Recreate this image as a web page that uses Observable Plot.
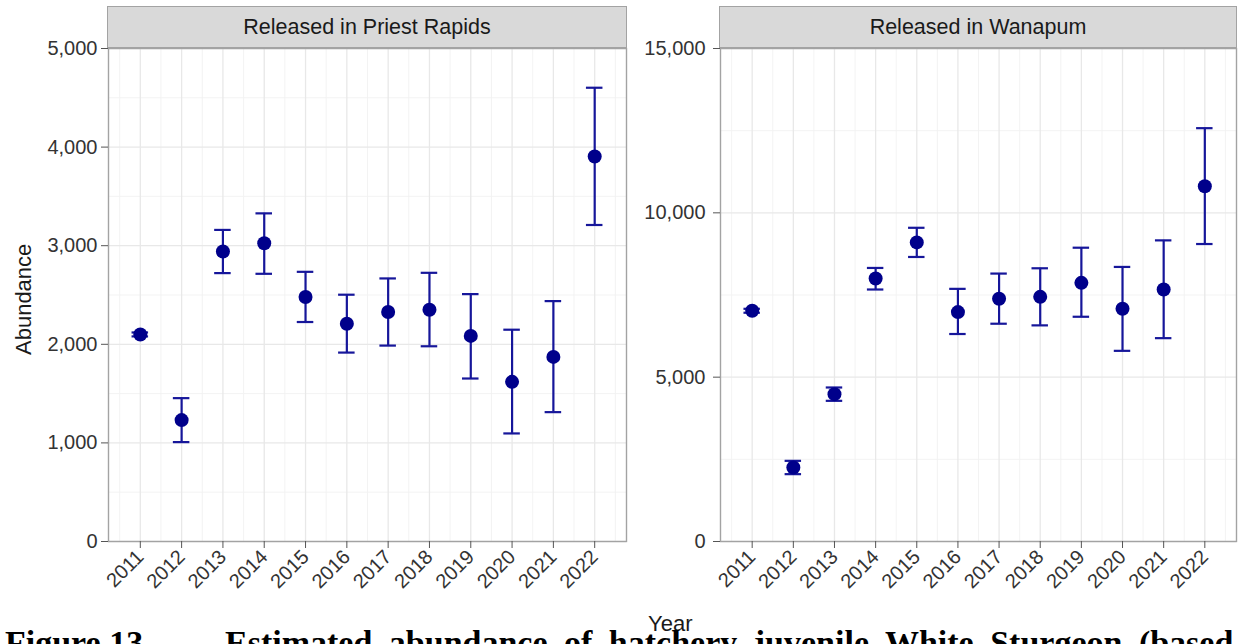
<!DOCTYPE html>
<html>
<head>
<meta charset="utf-8">
<script src="https://cdn.jsdelivr.net/npm/d3@7"></script>
<script src="https://cdn.jsdelivr.net/npm/@observablehq/plot@0.6"></script>
<style>
  html, body { margin: 0; padding: 0; background: #fff; }
  #root { position: relative; width: 1243px; height: 644px; overflow: hidden; font-family: "Liberation Sans", Arial, sans-serif; }
  .panel { position: absolute; top: 0; }
  .strip { position: absolute; top: 6px; height: 40px; background: #d9d9d9; border: 1px solid #a3a3a3; box-sizing: content-box;
           font-size: 21.5px; color: #1a1a1a; text-align: center; line-height: 40px; }
  .ylab { position: absolute; font-size: 22px; color: #1a1a1a; transform-origin: center; }
  .xlab { position: absolute; font-size: 22px; color: #1a1a1a; }
  .cap { position: absolute; top: 626px; font-family: "Liberation Serif", "Times New Roman", serif;
         font-weight: bold; font-size: 34px; line-height: 34px; white-space: nowrap; color: #000; }
</style>
</head>
<body>
<div id="root"></div>
<script>
// ---- data ----
const years = [2011, 2012, 2013, 2014, 2015, 2016, 2017, 2018, 2019, 2020, 2021, 2022];

const priestEstimate = [2100, 1231, 2941, 3025, 2479, 2209, 2327, 2351, 2085, 1619, 1872, 3905];
const priestLower    = [2080, 1008, 2722, 2715, 2226, 1916, 1987, 1980, 1653, 1096, 1312, 3210];
const priestUpper    = [2120, 1454, 3160, 3328, 2735, 2503, 2668, 2725, 2509, 2148, 2438, 4602];

const wanapumEstimate = [7020, 2252, 4483, 8000, 9101, 6980, 7384, 7444, 7869, 7081, 7667, 10808];
const wanapumLower    = [6960, 2049, 4280, 7667, 8657, 6313, 6626, 6576, 6838, 5801, 6187, 9051];
const wanapumUpper    = [7080, 2454, 4686, 8323, 9545, 7687, 8152, 8313, 8939, 8354, 9162, 12576];

const priestTicks = [0, 1000, 2000, 3000, 4000, 5000];
const priestMinor = [500, 1500, 2500, 3500, 4500];
const wanapumTicks = [0, 5000, 10000, 15000];
const wanapumMinor = [2500, 7500, 12500];

const panelTitles = ["Released in Priest Rapids", "Released in Wanapum"];
const xTitle = "Year";
const yTitle = "Abundance";
const captionLead = "Figure 13.";
const captionText = "Estimated abundance of hatchery juvenile White Sturgeon (based";

// ---- helpers ----
const capHalf = 0.2; // errorbar half width (years)
const xDomain = [2010.23, 2022.77];
const xMinor = d3.range(2010.5, 2023, 1);

function rows(est, lo, hi) {
  return years.map((y, i) => ({ year: y, est: est[i], lo: lo[i], hi: hi[i] }));
}

const pointColor = "#00008B";
const barColor = "#16169a";

function panel(data, yMax, ticks, minor, opts) {
  return Plot.plot({
    width: opts.width,
    height: 600,
    marginLeft: opts.marginLeft,
    marginRight: opts.marginRight,
    marginTop: 48,
    marginBottom: 59,
    style: { fontFamily: "Liberation Sans, Arial, sans-serif", fontSize: "20px", background: "transparent" },
    x: { type: "linear", domain: xDomain },
    y: { domain: [0, yMax] },
    marks: [
      Plot.ruleY(minor, { stroke: "#f2f2f2", strokeWidth: 0.9 }),
      Plot.ruleX(xMinor, { stroke: "#f2f2f2", strokeWidth: 0.9 }),
      Plot.ruleY(ticks, { stroke: "#e8e8e8", strokeWidth: 1.3 }),
      Plot.ruleX(years, { stroke: "#e8e8e8", strokeWidth: 1.3 }),
      Plot.frame({ stroke: "#a3a3a3", strokeWidth: 1.4 }),
      Plot.axisY({ ticks, tickFormat: d3.format(","), tickSize: 7, tickPadding: opts.yPad, stroke: "#555", fill: "#333", fontSize: 20, label: null }),
      Plot.axisX({ ticks: years, tickFormat: d => String(d), tickRotate: -45, tickSize: 7, tickPadding: 5, stroke: "#555", fill: "#333", fontSize: 20, label: null }),
      Plot.ruleX(data, { x: "year", y1: "lo", y2: "hi", stroke: barColor, strokeWidth: 2.2 }),
      Plot.ruleY(data, { y: "lo", x1: d => d.year - capHalf, x2: d => d.year + capHalf, stroke: barColor, strokeWidth: 2.2 }),
      Plot.ruleY(data, { y: "hi", x1: d => d.year - capHalf, x2: d => d.year + capHalf, stroke: barColor, strokeWidth: 2.2 }),
      Plot.dot(data, { x: "year", y: "est", r: 7, fill: pointColor, stroke: "none" })
    ]
  });
}

const root = document.getElementById("root");

const left = panel(rows(priestEstimate, priestLower, priestUpper), 5000, priestTicks, priestMinor, { width: 630, marginLeft: 108, marginRight: 4, yPad: 4 });
left.classList.add("panel");
left.style.left = "0px";
root.appendChild(left);

const right = panel(rows(wanapumEstimate, wanapumLower, wanapumUpper), 15000, wanapumTicks, wanapumMinor, { width: 613, marginLeft: 90, marginRight: 7, yPad: 8 });
right.classList.add("panel");
right.style.left = "630px";
root.appendChild(right);

// strips
[[108, 518, panelTitles[0]], [720, 516, panelTitles[1]]].forEach(([x, w, t]) => {
  const s = document.createElement("div");
  s.className = "strip";
  s.style.left = (x - 1) + "px";
  s.style.width = w + "px";
  s.textContent = t;
  root.appendChild(s);
});

// axis titles
const yl = document.createElement("div");
yl.className = "ylab";
yl.textContent = yTitle;
yl.style.left = "-31px";
yl.style.top = "287px";
yl.style.width = "110px";
yl.style.textAlign = "center";
yl.style.transform = "rotate(-90deg)";
root.appendChild(yl);

const xl = document.createElement("div");
xl.className = "xlab";
xl.textContent = xTitle;
xl.style.left = "648px";
xl.style.top = "611px";
root.appendChild(xl);

// caption (cut off at bottom as in the source)
const c1 = document.createElement("div");
c1.className = "cap";
c1.style.left = "5px";
c1.textContent = captionLead;
root.appendChild(c1);
const c2 = document.createElement("div");
c2.className = "cap";
c2.style.left = "225px";
c2.style.wordSpacing = "8px";
c2.textContent = captionText;
root.appendChild(c2);
</script>
</body>
</html>
